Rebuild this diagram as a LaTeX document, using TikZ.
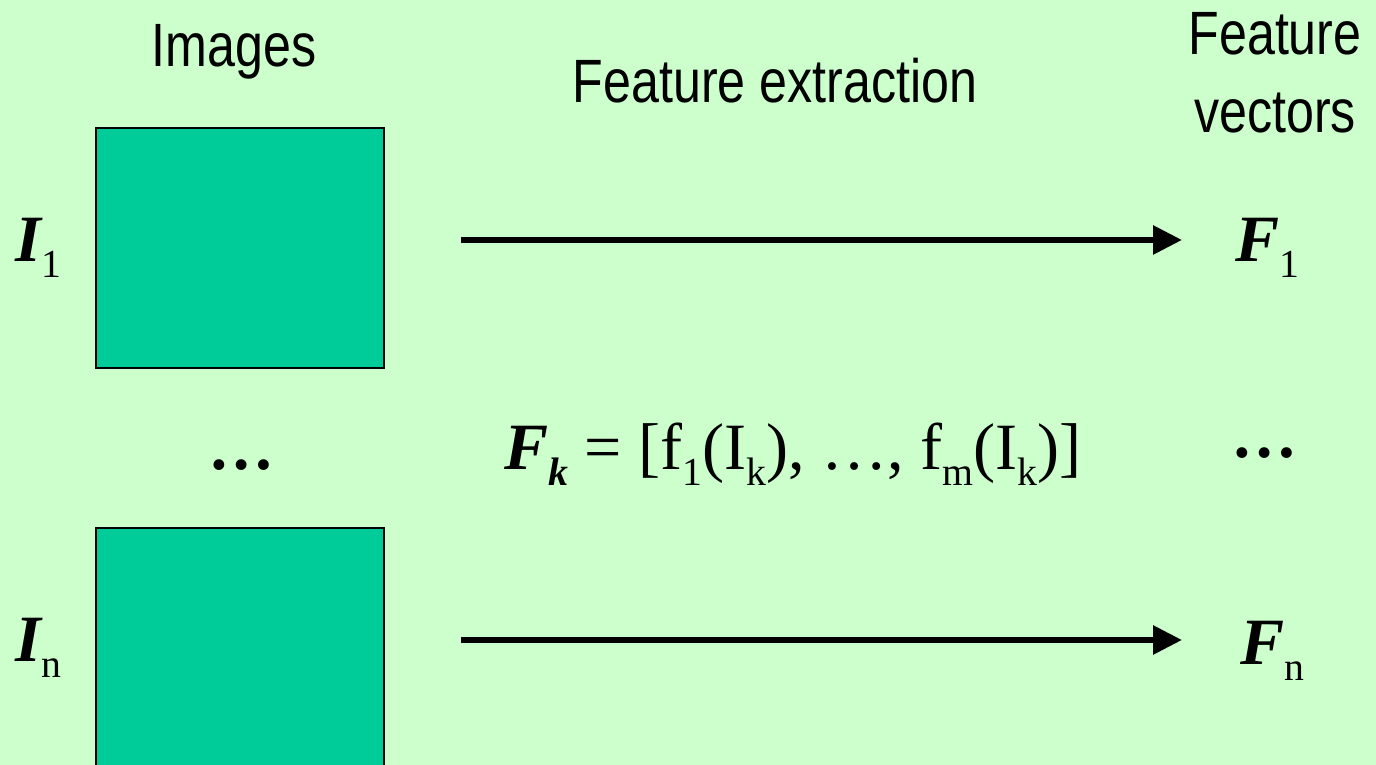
\documentclass[tikz,border=0pt]{standalone}
\usepackage{fontspec}
\setsansfont{Liberation Sans}[FakeStretch=0.82]
\newfontfamily\timesfont{Liberation Serif}
\usetikzlibrary{arrows.meta, positioning}
\definecolor{slidegreen}{HTML}{CCFFCC}
\definecolor{imagegreen}{HTML}{00CC99}
\newcommand{\lowsub}[1]{\raisebox{-0.24em}{\fontsize{11.3pt}{13pt}\selectfont #1}}

\begin{document}
\begin{tikzpicture}[x=0.01cm, y=-0.01cm,
  heading/.style={font=\sffamily\fontsize{17.4pt}{22.2pt}\selectfont, inner sep=0pt, anchor=base},
  sym/.style={font=\timesfont\fontsize{18.8pt}{22pt}\selectfont, inner sep=0pt, anchor=base west},
  imagebox/.style={draw=black, line width=0.5pt, fill=imagegreen, inner sep=0pt, anchor=north west},
  extract/.style={line width=1.7pt, -{Triangle[length=0.29cm, width=0.28cm]}}]
  \fill[slidegreen] (0,0) rectangle (1376,765);
  \useasboundingbox (0,0) rectangle (1376,765);
  % column headings
  \node[heading] (images) at (234,67) {Images};
  \node[heading] (extraction) at (775,103) {Feature extraction};
  \node[heading, align=center] (vectors) at (1275,133) {Feature\\vectors};
  % images
  \node[imagebox, minimum width=2.88cm, minimum height=2.4cm] (img1) at (95,127) {};
  \node[imagebox, minimum width=2.88cm, minimum height=2.55cm] (imgn) at (95,527) {};
  \node[sym] (i1) at (15,262) {{\bfseries\itshape I}\lowsub{1}};
  \node[sym] (in) at (15,662) {{\bfseries\itshape I}\lowsub{n}};
  % feature vectors
  \node[sym] (f1) at (1235,262) {{\bfseries\itshape F}\lowsub{1}};
  \node[sym] (fn) at (1240,665) {{\bfseries\itshape F}\lowsub{n}};
  \node[sym, anchor=base] (dotsl) at (242,470) {\bfseries …};
  \node[sym, anchor=base] (dotsr) at (1265,458) {\bfseries …};
  \node[sym, anchor=base] (fk) at (793,470)
    {{\bfseries\itshape F\lowsub{k}} = [f\lowsub{1}(I\lowsub{k}), …, f\lowsub{m}(I\lowsub{k})]};
  % arrows
  \coordinate (from1) at (461,240);
  \coordinate (to1) at (1182,240);
  \coordinate (fromn) at (461,640);
  \coordinate (ton) at (1182,640);
  \draw[extract] (from1) -- (to1);
  \draw[extract] (fromn) -- (ton);
\end{tikzpicture}
\end{document}
